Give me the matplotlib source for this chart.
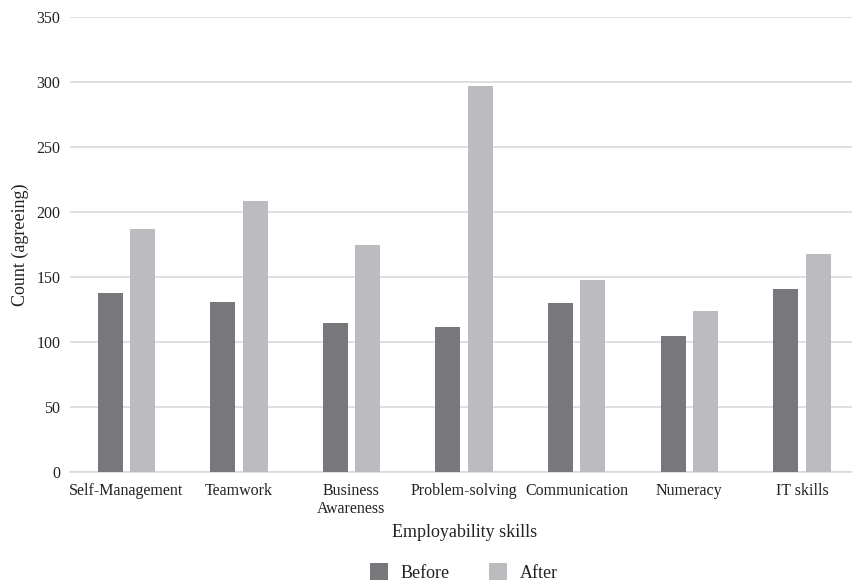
import matplotlib.pyplot as plt
import numpy as np

skills = ["Self-Management", "Teamwork", "Business\nAwareness", "Problem-solving",
          "Communication", "Numeracy", "IT skills"]
before = [138, 131, 115, 112, 130, 105, 141]
after = [187, 209, 175, 297, 148, 124, 168]

plt.rcParams['font.family'] = ['Liberation Serif', 'DejaVu Serif']

fig = plt.figure(figsize=(8.53, 5.82), dpi=100)
ax = fig.add_axes([70 / 853, 109.7 / 582, 788.2 / 853, 455 / 582])

x = np.arange(len(skills))
width = 0.222
ax.bar(x - 0.143, before, width, color="#77787c", label="Before", zorder=3)
ax.bar(x + 0.143, after, width, color="#bbbcc0", label="After", zorder=3)

ax.set_xlim(-0.5, len(skills) - 0.5)
ax.set_ylim(0, 350)
ax.set_yticks(range(0, 351, 50))
ax.set_xticks(x)
ax.set_xticklabels(skills, fontsize=11.5, linespacing=1.1)
ax.tick_params(axis='both', length=0, labelsize=11.5, colors="#222222")
ax.tick_params(axis='x', pad=8)
ax.tick_params(axis='y', pad=7)

# light horizontal grid, no frame
ax.grid(axis='y', color="#d9d9d9", linewidth=1.2, zorder=0)
for side in ['top', 'right', 'left']:
    ax.spines[side].set_visible(False)
ax.spines['bottom'].set_color("#d9d9d9")
ax.spines['bottom'].set_linewidth(1.2)

ax.set_xlabel("Employability skills", fontsize=13, color="#222222")
ax.xaxis.set_label_coords(0.5, -0.114)
ax.set_ylabel("Count (agreeing)", fontsize=13, color="#222222")
ax.yaxis.set_label_coords(-0.052, 0.5)

fig.legend(loc='center', bbox_to_anchor=(464 / 853, 9.5 / 582), ncol=2, frameon=False,
           fontsize=13, handlelength=1.0, handleheight=1.0, columnspacing=2.2,
           handletextpad=0.7, labelcolor="#222222")

fig.savefig("out.png", dpi=100)
